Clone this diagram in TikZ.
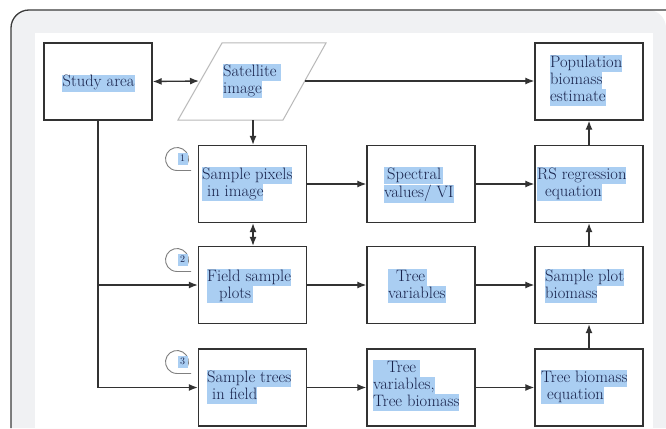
\documentclass[tikz,border=0pt]{standalone}
\usetikzlibrary{arrows.meta}
\definecolor{hl}{RGB}{170,206,242}
\definecolor{txt}{RGB}{24,34,75}
\definecolor{bgc}{RGB}{240,241,243}
\definecolor{frm}{RGB}{60,60,60}
\definecolor{bx}{RGB}{50,50,50}
\definecolor{pg}{RGB}{185,185,185}
\newcommand\hlx[1]{{\setlength\fboxsep{0pt}\colorbox{hl}{\strut#1}}}
\tikzset{
  box/.style={draw=bx, line width=1.4pt, fill=white, minimum width=108pt, minimum height=77pt, inner sep=0pt},
  lbl/.style={text=txt, align=left, anchor=north west, inner sep=0pt, font=\fontsize{16.5}{17}\selectfont},
  num/.style={text=txt, inner sep=0pt, font=\fontsize{10}{12}\selectfont},
  arr/.style={-{Latex[length=9pt,width=7pt]}, line width=1.3pt, draw=bx},
  darr/.style={{Latex[length=9pt,width=7pt]}-{Latex[length=9pt,width=7pt]}, line width=1.3pt, draw=bx},
  callout/.style={draw=gray, line width=0.9pt}
}
\begin{document}
\begin{tikzpicture}[x=1pt,y=-1pt]
\useasboundingbox (0,0) rectangle (666,428);
\fill[white] (0,0) rectangle (666,428);
\fill[bgc, rounded corners=18pt] (11,428) -- (11,10) -- (666,10) [sharp corners] -- (666,428) -- cycle;
\draw[frm, line width=1.3pt, rounded corners=18pt] (11,428) -- (11,10) -- (666,10);
\fill[white] (35,33) rectangle (653,428);

% boxes
\node[box] (study) at (98,81.5) {};
\node[box] (pop) at (589,81.5) {};
\node[box] (pix) at (252.5,184) {};
\node[box] (spec) at (421,184) {};
\node[box] (rs) at (589,184) {};
\node[box] (field) at (252.5,285) {};
\node[box] (treev) at (421,285) {};
\node[box] (spb) at (589,285) {};
\node[box] (trees) at (252.5,387.5) {};
\node[box] (tvb) at (421,387.5) {};
\node[box] (tbe) at (589,387.5) {};

% satellite parallelogram
\draw[pg, line width=1pt, fill=white] (222,43) -- (326,43) -- (283,120) -- (178,120) -- cycle;
\coordinate (satl) at (199,81);
\coordinate (satr) at (304.5,81);
\coordinate (satb) at (253,120);

% texts
\node[text=txt, inner sep=0pt, font=\fontsize{16.5}{17}\selectfont] (tstudy) at (98.5,83.5) {\hlx{\hspace{1pt}Study area\hspace{1pt}}};
\node[lbl] (tsat) at (223,64) {\hlx{Satellite\hspace{4pt}}\\\hlx{image}};
\node[lbl] (tpop) at (550,55) {\hlx{Population}\\\hlx{biomass}\\\hlx{estimate}};
\node[lbl] (tpix) at (202,167) {\hlx{Sample pixels}\\\hlx{\hspace{5pt}in image}};
\node[lbl] (tspec) at (384,167) {\hlx{\hspace{3pt}Spectral\hspace{2pt}}\\\hlx{values/ VI}};
\node[lbl] (trs) at (537,167) {\hlx{RS regression}\\\hlx{\hspace{8pt}equation}};
\node[lbl] (tfield) at (207,269) {\hlx{Field sample}\\\hlx{\hspace{12pt}plots\hspace{2pt}}};
\node[lbl] (ttreev) at (388,269) {\hlx{\hspace{8pt}Tree\hspace{2pt}}\\\hlx{variables}};
\node[lbl] (tspb) at (545,269) {\hlx{Sample plot}\\\hlx{biomass}};
\node[lbl] (ttrees) at (207,370) {\hlx{Sample trees}\\\hlx{\hspace{5pt}in field}};
\node[lbl] (ttvb) at (373,360) {\hlx{\hspace{14pt}Tree\hspace{4pt}}\\\hlx{variables,}\\\hlx{Tree biomass}};
\node[lbl] (ttbe) at (541,370) {\hlx{Tree biomass}\\\hlx{\hspace{6pt}equation}};

% callouts
\foreach \cy/\k in {159/1,260/2,362/3}{
  \draw[callout] (177,\cy) ++(30:11.5) arc[start angle=30, end angle=-270, radius=11.5] -- ++(14,0);
  \node[num] (n\k) at (183,\cy) {\hlx{\hspace{2pt}\k\hspace{3pt}}};
}

% connectors
\draw[darr] (study.east) -- (satl);
\draw[arr] (satr) -- (pop.west |- satr);
\draw[arr] (satb) -- (satb |- pix.north);
\draw[darr] (satb |- pix.south) -- (satb |- field.north);
\draw[arr] (pix.east) -- (spec.west);
\draw[arr] (spec.east) -- (rs.west);
\draw[arr] (rs.north) -- (pop.south);
\draw[arr] (field.east) -- (treev.west);
\draw[arr] (treev.east) -- (spb.west);
\draw[arr] (spb.north) -- (rs.south);
\draw[arr] (trees.east) -- (tvb.west);
\draw[arr] (tvb.east) -- (tbe.west);
\draw[arr] (tbe.north) -- (spb.south);
\draw[arr] (study.south) |- (trees.west);
\draw[arr] (study.south |- field.west) -- (field.west);
\end{tikzpicture}
\end{document}
